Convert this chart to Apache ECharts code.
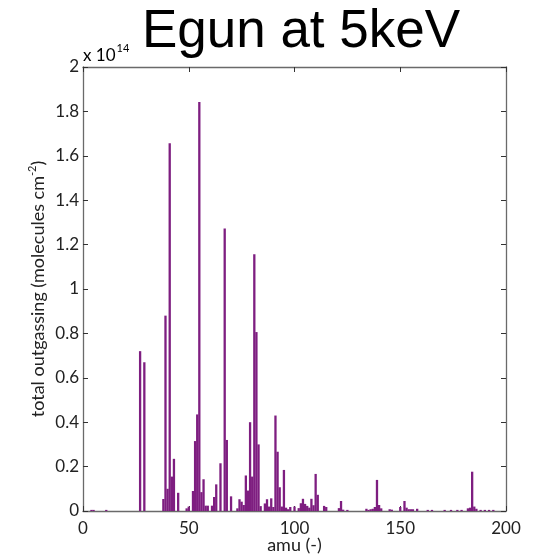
<!DOCTYPE html>
<html>
<head>
<meta charset="utf-8">
<script src="https://cdn.jsdelivr.net/npm/echarts@6/dist/echarts.min.js"></script>
<style>
html,body{margin:0;padding:0;background:#fff;}
#chart{width:533px;height:555px;}
</style>
</head>
<body>
<div id="chart"></div>
<script>
// mass numbers (amu)
var amu = [4,5,11,27,29,38,39,40,41,42,43,45,49,50,52,53,54,55,56,57,58,59,61,62,63,65,67,68,70,
  73,74,75,76,77,78,79,80,81,82,83,84,86,87,88,89,90,91,92,93,94,95,96,97,98,100,102,103,104,105,106,107,108,109,110,111,
  114,115,121,122,123,125,134,135,136,137,138,139,140,141,145,146,150,152,153,154,155,156,158,163,165,171,174,177,179,
  182,183,184,185,186,188,190,192,194];
// total outgassing (x 1e14 molecules cm^-2)
var outgassing = [0.005,0.005,0.005,0.72,0.67,0.054,0.88,0.10,1.657,0.155,0.235,0.082,0.012,0.02,0.09,0.315,0.435,1.842,0.085,0.143,0.024,0.024,0.024,0.063,0.12,0.215,1.273,0.32,0.066,
  0.012,0.053,0.042,0.027,0.16,0.092,0.40,0.155,1.157,0.806,0.30,0.022,0.034,0.053,0.02,0.057,0.018,0.43,0.267,0.107,0.02,0.185,0.015,0.008,0.018,0.02,0.013,0.035,0.055,0.032,0.023,0.015,0.055,0.026,0.167,0.073,
  0.023,0.018,0.013,0.045,0.006,0.005,0.01,0.005,0.008,0.01,0.018,0.14,0.027,0.012,0.008,0.006,0.018,0.045,0.015,0.008,0.008,0.008,0.01,0.005,0.005,0.005,0.005,0.005,0.005,
  0.012,0.015,0.177,0.02,0.01,0.005,0.005,0.005,0.005];
var xTicks = [0,50,100,150,200];
var yTicks = [0,0.2,0.4,0.6,0.8,1,1.2,1.4,1.6,1.8,2];

var font = 'Lato';
var lineCol = '#6a6a6a';
var chart = echarts.init(document.getElementById('chart'));
function common(){
  return {
    axisLine:{show:true,onZero:false,lineStyle:{color:lineCol,width:1.3}},
    axisTick:{show:true,inside:true,length:5,lineStyle:{color:'#333',width:1}},
    splitLine:{show:false}
  };
}
chart.setOption({
  animation:false,
  grid:{left:83,right:27,top:67,bottom:44,containLabel:false,outerBoundsMode:'none'},
  graphic:[
    {type:'text',style:{text:'Egun at 5keV',x:301,y:32,textAlign:'center',textVerticalAlign:'middle',font:'53px "Liberation Sans", Arial, sans-serif',fill:'#000'}},
    {type:'text',style:{x:83,y:56,textVerticalAlign:'middle',rich:{n:{fontSize:17,fontFamily:font,color:'#222'},s:{fontSize:11,fontFamily:font,color:'#222',padding:[0,0,16,1]}},text:'{n|x 10}{s|14}'}}
  ],
  xAxis:[
    Object.assign({type:'value',position:'bottom',min:xTicks[0],max:xTicks[xTicks.length-1],interval:50,
      axisLabel:{fontSize:17,fontFamily:font,color:'#222',margin:9},
      name:'amu (-)',nameLocation:'middle',nameGap:25,nameMoveOverlap:false,nameTextStyle:{fontSize:18,fontFamily:font,color:'#222'}},common()),
    Object.assign({type:'value',position:'top',min:0,max:200,interval:50,axisLabel:{show:false}},common())
  ],
  yAxis:[
    Object.assign({type:'value',position:'left',min:yTicks[0],max:yTicks[yTicks.length-1],interval:0.2,
      axisLabel:{fontSize:17,fontFamily:font,color:'#222',margin:4,formatter:function(v){return String(Math.round(v*10)/10);}},
      name:'{n|total outgassing (molecules cm}{s|-2}{n|)}',nameLocation:'middle',nameGap:34,nameMoveOverlap:false,nameRotate:90,
      nameTextStyle:{rich:{n:{fontSize:18,fontFamily:font,color:'#222'},s:{fontSize:11,fontFamily:font,color:'#222',padding:[0,0,11,0]}}}},common()),
    Object.assign({type:'value',position:'right',min:0,max:2,interval:0.2,axisLabel:{show:false}},common())
  ],
  series:[{
    type:'bar',xAxisIndex:0,yAxisIndex:0,barWidth:2.3,
    itemStyle:{color:'#7e1e80'},
    data:amu.map(function(a,i){return [a,outgassing[i]];})
  }]
});
</script>
</body>
</html>
